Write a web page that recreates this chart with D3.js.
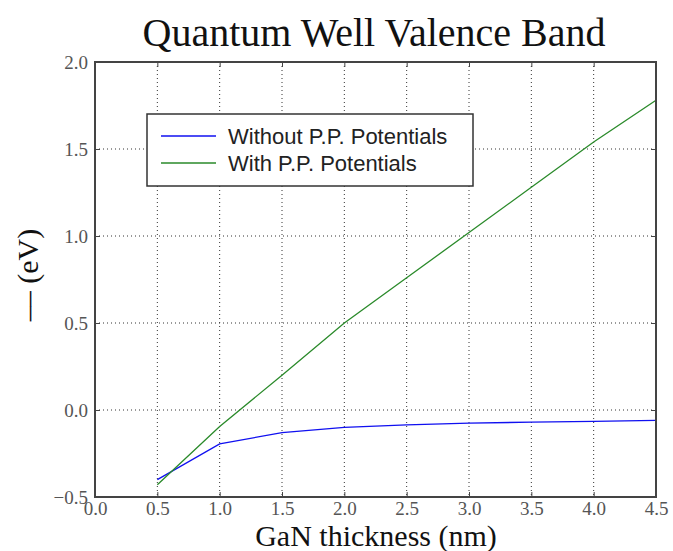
<!DOCTYPE html>
<html><head><meta charset="utf-8">
<script src="https://cdn.jsdelivr.net/npm/d3@7"></script>
<style>body{margin:0;background:#fff}</style>
</head><body>
<svg id="c" width="673" height="551"></svg>
<script>
const thickness = [0.5, 1.0, 1.5, 2.0, 2.5, 3.0, 3.5, 4.0, 4.5];
const withoutPP = [-0.40, -0.195, -0.13, -0.10, -0.085, -0.075, -0.07, -0.065, -0.06];
const withPP = [-0.43, -0.095, 0.20, 0.50, 0.76, 1.02, 1.28, 1.54, 1.78];
const xTicks = [0.0, 0.5, 1.0, 1.5, 2.0, 2.5, 3.0, 3.5, 4.0, 4.5];
const yTicks = [-0.5, 0.0, 0.5, 1.0, 1.5, 2.0];
const seriesNames = ["Without P.P. Potentials", "With P.P. Potentials"];
const colors = ["#1010f0", "#2a8a2a"];

const svg = d3.select("#c");
const L = 95, R = 656, T = 62, B = 497;
const x = d3.scaleLinear().domain([0, 4.5]).range([L, R]);
const y = d3.scaleLinear().domain([-0.5, 2.0]).range([B, T]);
const serif = "'Liberation Serif', 'DejaVu Serif', serif";

// grid
const g = svg.append("g");
g.selectAll("line.vx").data(xTicks).join("line")
  .attr("x1", d => x(d)).attr("x2", d => x(d)).attr("y1", T).attr("y2", B)
  .attr("stroke", "#333").attr("stroke-width", 1).attr("stroke-dasharray", "1,3");
g.selectAll("line.hy").data(yTicks).join("line")
  .attr("y1", d => y(d)).attr("y2", d => y(d)).attr("x1", L).attr("x2", R)
  .attr("stroke", "#333").attr("stroke-width", 1).attr("stroke-dasharray", "1,3");

// axes
const xa = svg.append("g").attr("transform", `translate(0,${B})`)
  .call(d3.axisBottom(x).tickValues(xTicks).tickFormat(d3.format(".1f")).tickSize(-5).tickPadding(5));
const xt = svg.append("g").attr("transform", `translate(0,${T})`)
  .call(d3.axisTop(x).tickValues(xTicks).tickFormat("").tickSize(-5));
const ya = svg.append("g").attr("transform", `translate(${L},0)`)
  .call(d3.axisLeft(y).tickValues(yTicks).tickFormat(d3.format(".1f")).tickSize(-5).tickPadding(7));
const yr = svg.append("g").attr("transform", `translate(${R},0)`)
  .call(d3.axisRight(y).tickValues(yTicks).tickFormat("").tickSize(-5));
[xa, xt, ya, yr].forEach(a => {
  a.select(".domain").remove();
  a.selectAll(".tick line").attr("stroke", "#444");
  a.selectAll("text").attr("font-family", serif).attr("font-size", 19).attr("fill", "#555");
});
xa.selectAll("text").attr("dy", "0.71em");

// lines
const line = d3.line().x((d, i) => x(thickness[i])).y(d => y(d));
[withoutPP, withPP].forEach((s, k) => {
  svg.append("path").datum(s).attr("d", line).attr("fill", "none")
    .attr("stroke", colors[k]).attr("stroke-width", 1.3);
});

// frame
svg.append("rect").attr("x", L).attr("y", T).attr("width", R - L).attr("height", B - T)
  .attr("fill", "none").attr("stroke", "#444").attr("stroke-width", 2);

// legend
const lg = svg.append("g");
lg.append("rect").attr("x", 147).attr("y", 114).attr("width", 326).attr("height", 72)
  .attr("fill", "#fff").attr("stroke", "#333").attr("stroke-width", 1.5);
seriesNames.forEach((n, i) => {
  const yy = 136 + i * 27;
  lg.append("line").attr("x1", 161).attr("x2", 216).attr("y1", yy).attr("y2", yy)
    .attr("stroke", colors[i]).attr("stroke-width", 1.3);
  lg.append("text").attr("x", 228).attr("y", yy).attr("dy", "0.35em")
    .attr("font-family", "'Liberation Sans', Arial, sans-serif").attr("font-size", 22)
    .attr("fill", "#222").text(n);
});

// title & labels
svg.append("text").attr("x", 374).attr("y", 46).attr("text-anchor", "middle")
  .attr("font-family", serif).attr("font-size", 40).attr("fill", "#111")
  .text("Quantum Well Valence Band");
svg.append("text").attr("x", 376).attr("y", 546).attr("text-anchor", "middle")
  .attr("font-family", serif).attr("font-size", 30).attr("fill", "#111")
  .text("GaN thickness (nm)");
svg.append("text").attr("transform", "translate(38,275) rotate(-90)").attr("text-anchor", "middle")
  .attr("font-family", serif).attr("font-size", 30).attr("fill", "#111")
  .text("‒‒  (eV)");
</script>
</body></html>
